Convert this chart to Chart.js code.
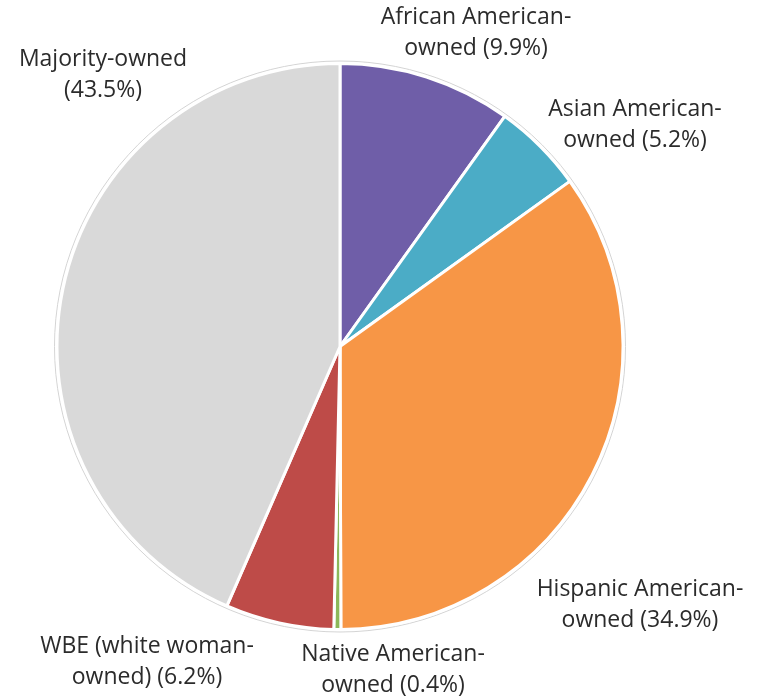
<!DOCTYPE html>
<html>
<head>
<meta charset="utf-8">
<script src="https://cdn.jsdelivr.net/npm/chart.js@4"></script>
<style>
  html, body { margin: 0; padding: 0; background: #fff; }
  #wrap { width: 767px; height: 699px; }
</style>
</head>
<body>
<div id="wrap"><canvas id="pie" width="767" height="699"></canvas></div>
<script>
// Share of firms by ownership, clockwise from 12 o'clock
const categories = [
  'African American-owned',
  'Asian American-owned',
  'Hispanic American-owned',
  'Native American-owned',
  'WBE (white woman-owned)',
  'Majority-owned'
];
const shares = [9.9, 5.2, 34.9, 0.4, 6.2, 43.5];
const sliceColors = ['#6F5EA8', '#4BACC6', '#F79646', '#8CB85A', '#BE4B48', '#D9D9D9'];

// Label text split onto two lines, with the anchor (centre of the text block)
const labelLines = [
  ['African American-', 'owned (9.9%)'],
  ['Asian American-', 'owned (5.2%)'],
  ['Hispanic American-', 'owned (34.9%)'],
  ['Native American-', 'owned (0.4%)'],
  ['WBE (white woman-', 'owned) (6.2%)'],
  ['Majority-owned', '(43.5%)']
];
const labelAnchors = [
  [476, 32], [635, 124], [640, 604], [393, 669], [147, 661], [103, 74]
];

// Thin grey rim behind the slices
const rimPlugin = {
  id: 'rim',
  beforeDatasetsDraw(chart) {
    const arc = chart.getDatasetMeta(0).data[0];
    if (!arc) return;
    const ctx = chart.ctx;
    ctx.save();
    ctx.beginPath();
    ctx.arc(arc.x, arc.y, arc.outerRadius + 2.5, 0, Math.PI * 2);
    ctx.fillStyle = '#fff';
    ctx.fill();
    ctx.lineWidth = 1;
    ctx.strokeStyle = '#d4d4d4';
    ctx.stroke();
    ctx.restore();
  }
};

const labelPlugin = {
  id: 'sliceLabels',
  afterDraw(chart) {
    const ctx = chart.ctx;
    ctx.save();
    ctx.font = '23px "Open Sans", "Liberation Sans", sans-serif';
    ctx.fillStyle = '#2b2b2b';
    ctx.textAlign = 'center';
    ctx.textBaseline = 'middle';
    labelLines.forEach((lines, i) => {
      const [x, y] = labelAnchors[i];
      ctx.fillText(lines[0], x, y - 15);
      ctx.fillText(lines[1], x, y + 16);
    });
    ctx.restore();
  }
};

new Chart(document.getElementById('pie'), {
  type: 'pie',
  plugins: [rimPlugin, labelPlugin],
  data: {
    labels: categories,
    datasets: [{
      data: shares,
      backgroundColor: sliceColors,
      borderColor: '#fff',
      borderWidth: 3
    }]
  },
  options: {
    responsive: false,
    animation: false,
    layout: {
      padding: { left: 55, right: 142, top: 62, bottom: 68 }
    },
    plugins: {
      legend: { display: false },
      tooltip: { enabled: false }
    }
  }
});
</script>
</body>
</html>
